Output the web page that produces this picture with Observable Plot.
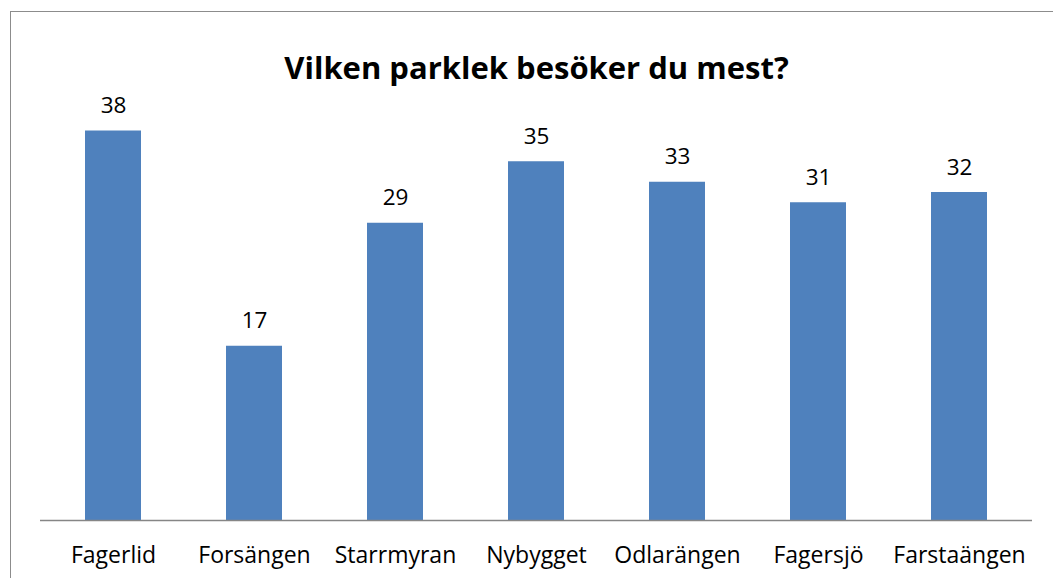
<!DOCTYPE html>
<html>
<head>
<meta charset="utf-8">
<script src="https://cdn.jsdelivr.net/npm/d3@7"></script>
<script src="https://cdn.jsdelivr.net/npm/@observablehq/plot@0.6"></script>
<style>
  html, body { margin: 0; padding: 0; background: #fff; }
  #wrap { position: relative; width: 1053px; height: 578px; overflow: hidden; }
  #frame { position: absolute; left: 10px; top: 11px; width: 1100px; height: 700px; border: 1.5px solid #8c8c8c; box-sizing: border-box; }
  #chart { position: absolute; left: 0; top: 0; }
</style>
</head>
<body>
<div id="wrap"><div id="frame"></div><div id="chart"></div></div>
<script>
const title = "Vilken parklek besöker du mest?";
const categories = ["Fagerlid", "Forsängen", "Starrmyran", "Nybygget", "Odlarängen", "Fagersjö", "Farstaängen"];
const values = [38, 17, 29, 35, 33, 31, 32];

const data = categories.map((c, i) => ({category: c, value: values[i]}));

const chart = Plot.plot({
  width: 1053,
  height: 578,
  marginLeft: 40,
  marginRight: 21,
  marginTop: 110,
  marginBottom: 58,
  style: {fontFamily: "'Open Sans', sans-serif", background: "transparent", overflow: "visible"},
  x: {domain: categories, paddingInner: 0.6, paddingOuter: 0.3, label: null},
  y: {domain: [0, 40], axis: null},
  marks: [
    Plot.barY(data, {x: "category", y: "value", fill: "#4F81BD"}),
    Plot.ruleY([0], {stroke: "#868686", strokeWidth: 1.5}),
    Plot.text(data, {x: "category", y: "value", text: d => String(d.value), dy: -25, fontSize: 22.5, fill: "#000"}),
    Plot.axisX({tickSize: 0, tickPadding: 26, fontSize: 23, fill: "#000", label: null}),
    Plot.text([title], {frameAnchor: "top", dx: 0, dy: -54, fontSize: 31, fontWeight: "bold", fill: "#000"})
  ]
});
document.getElementById("chart").appendChild(chart);
</script>
</body>
</html>
